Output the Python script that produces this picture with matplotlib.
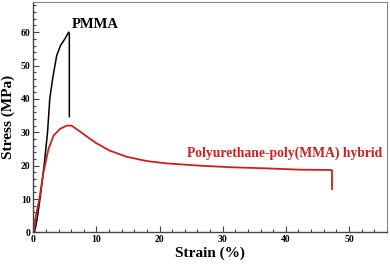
import matplotlib
matplotlib.use("Agg")
import matplotlib.pyplot as plt
from matplotlib.ticker import MultipleLocator

plt.rcParams['font.family'] = ['Liberation Serif', 'DejaVu Serif']

pmma_strain = [0.0, 0.16, 0.6, 1.05, 1.7, 2.25, 2.6, 3.05, 3.7, 4.3, 5.0, 5.6, 5.7, 5.7]
pmma_stress = [0.0, 0.0, 4.0, 10.0, 20.0, 30.0, 40.0, 46.0, 53.0, 56.0, 58.0, 60.0, 59.5, 34.7]

hyb_strain = [0.0, 0.4, 0.95, 1.6, 2.4, 3.2, 4.2, 5.3, 6.05, 7.4, 9.0, 10.0, 12.1, 14.7,
              17.9, 21.0, 26.3, 31.6, 36.8, 42.1, 47.1, 47.3, 47.3]
hyb_stress = [0.0, 5.0, 10.0, 18.0, 25.0, 29.0, 31.0, 32.0, 32.0, 30.2, 28.0, 26.7, 24.5, 22.7,
              21.4, 20.7, 20.0, 19.5, 19.2, 18.8, 18.7, 18.6, 13.0]

labels = ["PMMA", "Polyurethane-poly(MMA) hybrid"]

fig = plt.figure(figsize=(3.9, 2.65), dpi=100)
ax = fig.add_axes([0.0855, 0.123, 0.9065, 0.869])
ax.plot(pmma_strain, pmma_stress, color='black', lw=1.1)
ax.plot(hyb_strain, hyb_stress, color='#cc2020', lw=1.3)

ax.set_xlim(0, 56)
ax.set_ylim(0, 69)
ax.xaxis.set_major_locator(MultipleLocator(10))
ax.xaxis.set_minor_locator(MultipleLocator(2))
ax.yaxis.set_major_locator(MultipleLocator(10))
ax.yaxis.set_minor_locator(MultipleLocator(2))
ax.tick_params(which='both', direction='in', top=False, right=False, color='#444', width=0.8)
ax.tick_params(which='major', length=4, labelsize=7, pad=2)
ax.tick_params(which='minor', length=2)
for lab in ax.get_xticklabels() + ax.get_yticklabels():
    lab.set_fontweight('bold')
for s in ['left', 'bottom']:
    ax.spines[s].set_color('#444')
    ax.spines[s].set_linewidth(1.0)
for s in ['top', 'right']:
    ax.spines[s].set_color('#888')
    ax.spines[s].set_linewidth(0.8)

ax.set_xlabel("Strain (%)", fontsize=11, fontweight='bold', labelpad=2)
ax.set_ylabel("Stress (MPa)", fontsize=11, fontweight='bold', labelpad=4)

ax.text(6.1, 62.2, labels[0], fontsize=10.5, fontweight='bold', color='black', va='center', ha='left')
ax.text(24.3, 23.6, labels[1], fontsize=9.85, fontweight='bold', color='#cc2020', va='center', ha='left')

fig.savefig("out.png", dpi=100)
